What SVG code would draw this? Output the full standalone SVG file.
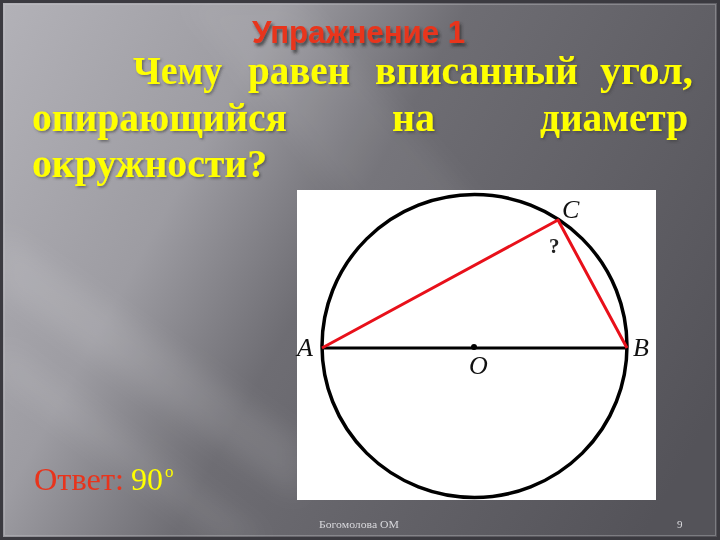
<svg xmlns="http://www.w3.org/2000/svg" width="720" height="540" viewBox="0 0 720 540">
  <defs>
    <linearGradient id="bg" x1="0" y1="0" x2="720" y2="400" gradientUnits="userSpaceOnUse">
      <stop offset="0" stop-color="#b3b2b8"/>
      <stop offset="0.3" stop-color="#9d9ca2"/>
      <stop offset="0.5" stop-color="#6e6d73"/>
      <stop offset="1" stop-color="#545359"/>
    </linearGradient>
    <filter id="soft" x="-20%" y="-20%" width="140%" height="140%">
      <feGaussianBlur stdDeviation="12"/>
    </filter>
    <filter id="shadow" x="-10%" y="-20%" width="130%" height="150%">
      <feDropShadow dx="1.5" dy="1.5" stdDeviation="1" flood-color="#3a3a3a" flood-opacity="0.6"/>
    </filter>
    <filter id="tshadow" x="-10%" y="-20%" width="130%" height="160%">
      <feDropShadow dx="2" dy="3" stdDeviation="1.5" flood-color="#2a2a2a" flood-opacity="0.7"/>
    </filter>
    <style>
      .q { font-family: "Liberation Serif", "Times New Roman", serif; font-weight: bold; font-size: 39px; fill: #ffff00; }
      .lbl { font-family: "Liberation Serif", "Times New Roman", serif; font-style: italic; font-size: 26px; fill: #111; }
      .foot { font-family: "Liberation Serif", "Times New Roman", serif; font-size: 11px; fill: #d8d8dc; }
    </style>
  </defs>

  <!-- background -->
  <rect x="0" y="0" width="720" height="540" fill="url(#bg)"/>
  <g filter="url(#soft)">
    <polygon points="0,230 0,290 300,500 300,440" fill="#ffffff" opacity="0.10"/>
    <polygon points="0,340 0,380 220,540 270,540" fill="#ffffff" opacity="0.08"/>
    <polygon points="180,0 300,0 560,300 430,300" fill="#ffffff" opacity="0.06"/>
  </g>
  <rect x="1.5" y="1.5" width="717" height="537" fill="none" stroke="#3b3a40" stroke-width="3"/>
  <rect x="4.5" y="4.5" width="711" height="531" fill="none" stroke="#c8c8cc" stroke-opacity="0.35" stroke-width="1"/>

  <!-- title -->
  <text x="252" y="43" textLength="213" lengthAdjust="spacingAndGlyphs" font-family="'Liberation Sans', Arial, sans-serif" font-weight="bold" font-size="32" fill="#e8341c" filter="url(#tshadow)">Упражнение 1</text>

  <!-- question -->
  <g id="question" filter="url(#shadow)">
    <text class="q" x="133" y="84" textLength="89" lengthAdjust="spacingAndGlyphs">Чему</text>
    <text class="q" x="248" y="84" textLength="102" lengthAdjust="spacingAndGlyphs">равен</text>
    <text class="q" x="375" y="84" textLength="203" lengthAdjust="spacingAndGlyphs">вписанный</text>
    <text class="q" x="600" y="84" textLength="93" lengthAdjust="spacingAndGlyphs">угол,</text>
    <text class="q" x="32" y="131" textLength="255" lengthAdjust="spacingAndGlyphs">опирающийся</text>
    <text class="q" x="392" y="131" textLength="43" lengthAdjust="spacingAndGlyphs">на</text>
    <text class="q" x="540" y="131" textLength="148" lengthAdjust="spacingAndGlyphs">диаметр</text>
    <text class="q" x="32" y="177" textLength="235" lengthAdjust="spacingAndGlyphs">окружности?</text>
  </g>

  <!-- figure -->
  <g id="figure">
    <rect x="297" y="190" width="359" height="310" fill="#ffffff"/>
    <ellipse cx="474.5" cy="346" rx="152.5" ry="151.5" fill="none" stroke="#000" stroke-width="3.5"/>
  </g>
  <g id="connectors">
    <line x1="322" y1="348" x2="627" y2="348" stroke="#000" stroke-width="3.2"/>
    <polyline points="322,348 558,220 627,348" fill="none" stroke="#e8101a" stroke-width="3" stroke-linejoin="round"/>
  </g>
  <g id="point-O">
    <circle cx="474" cy="347" r="3" fill="#000"/>
    <text class="lbl" x="469" y="374">O</text>
  </g>
  <g id="point-A"><text class="lbl" x="297" y="356">A</text></g>
  <g id="point-B"><text class="lbl" x="633" y="356">B</text></g>
  <g id="point-C"><text class="lbl" x="562" y="218">C</text></g>
  <text x="549" y="253" font-family="'Liberation Serif', serif" font-weight="bold" font-size="21" fill="#222">?</text>

  <!-- answer -->
  <g id="answer" font-family="'Liberation Serif', 'Times New Roman', serif" font-size="32">
    <text x="34" y="490" fill="#e8341c" textLength="90" lengthAdjust="spacingAndGlyphs">Ответ:</text>
    <text x="131" y="490" fill="#ffff00">90</text>
    <text x="165" y="477" fill="#ffff00" font-size="17">o</text>
  </g>

  <!-- footer -->
  <text class="foot" x="319" y="528" textLength="80" lengthAdjust="spacingAndGlyphs">Богомолова ОМ</text>
  <text class="foot" x="677" y="528">9</text>
</svg>
